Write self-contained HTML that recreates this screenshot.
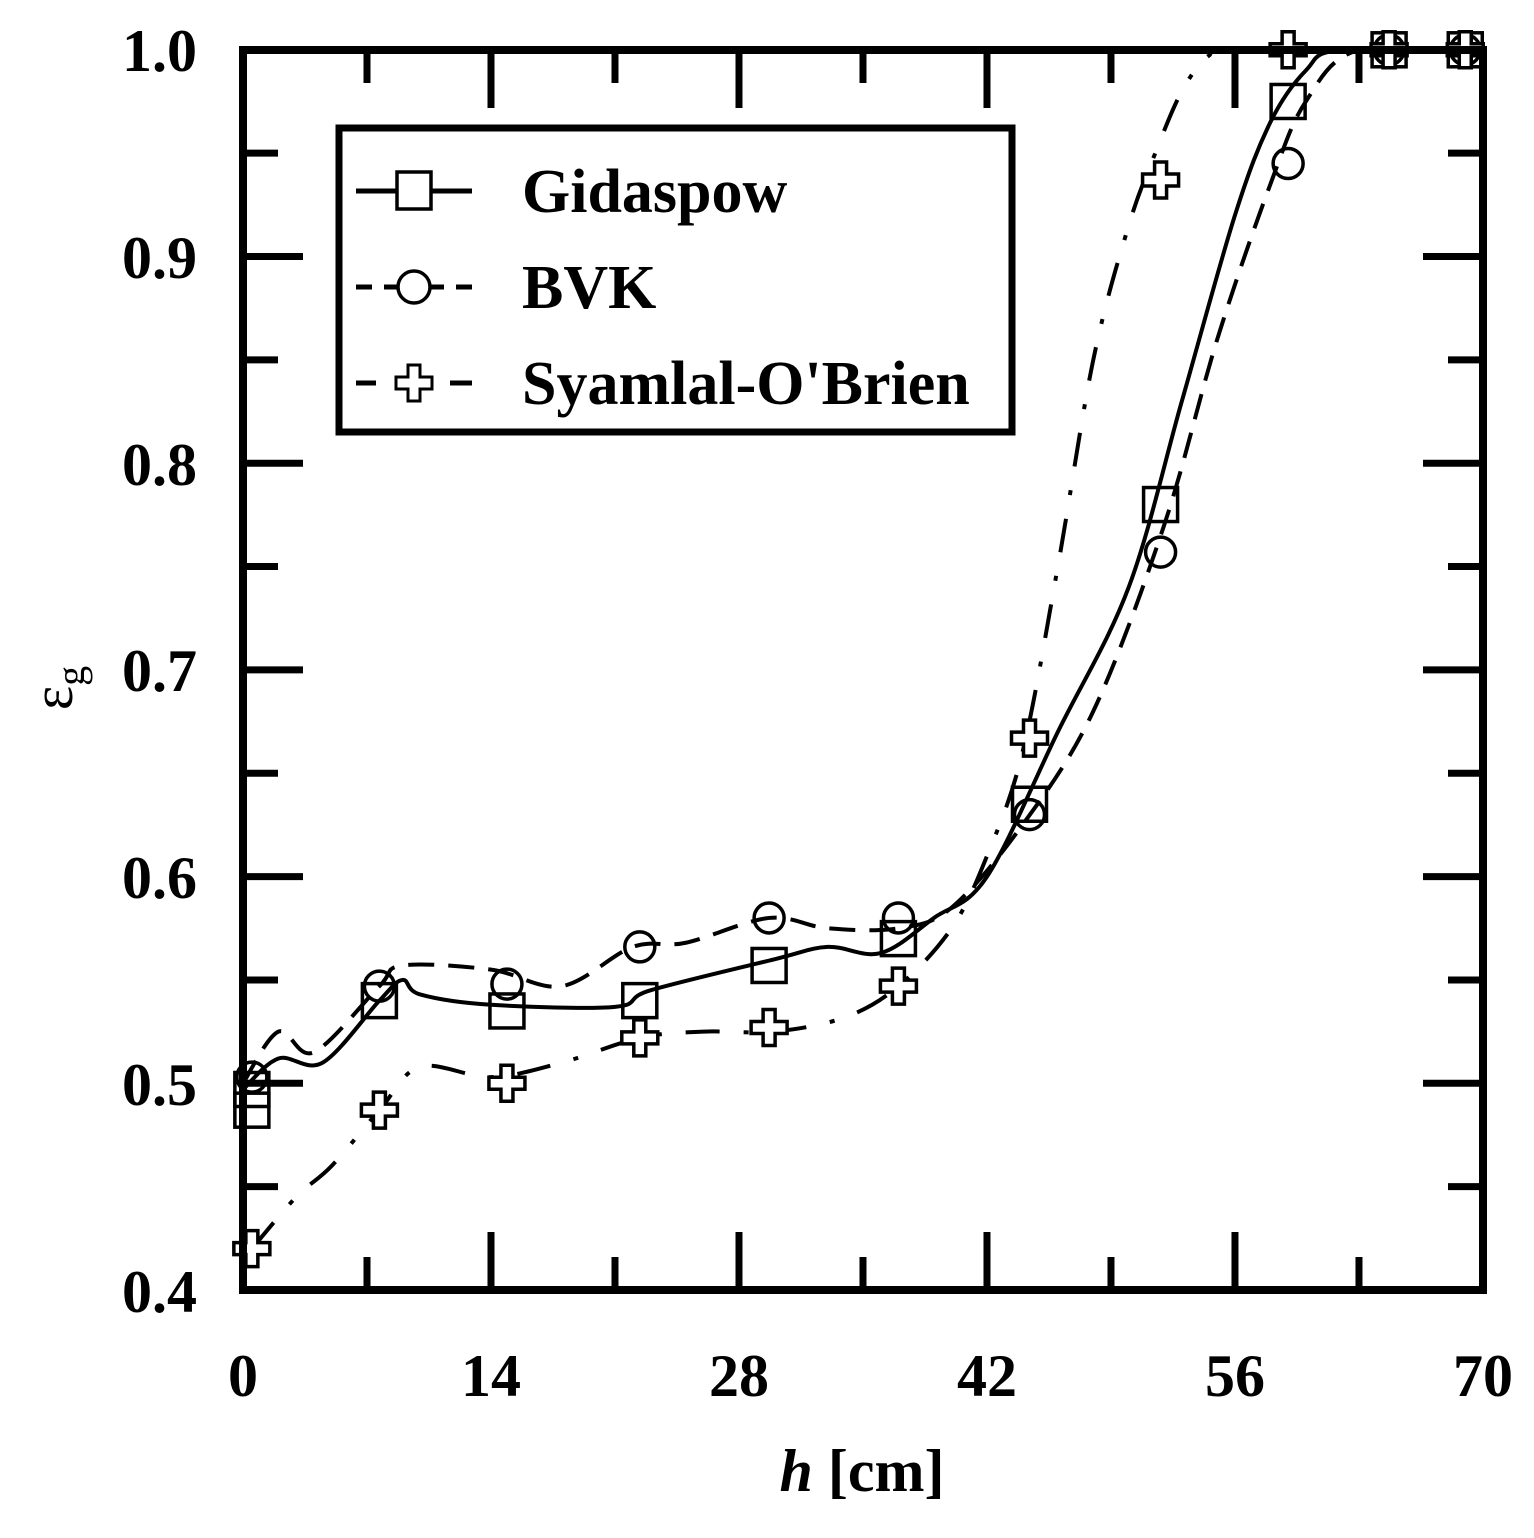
<!DOCTYPE html>
<html><head><meta charset="utf-8"><style>
html,body{margin:0;padding:0;background:#fff;}
svg{display:block;}
text{font-family:"Liberation Serif",serif;font-weight:bold;fill:#000;}
</style></head><body>
<svg id="s" width="1534" height="1538" viewBox="0 0 1534 1538" xmlns="http://www.w3.org/2000/svg">
<g id="ticks" stroke="#000" stroke-width="7"></g>
<g id="curves" fill="none" stroke="#000" stroke-width="4"></g>
<g id="marks" fill="none" stroke="#000" stroke-width="3.5"></g>
<rect x="243" y="50" width="1240" height="1240" fill="none" stroke="#000" stroke-width="8"/>
<g font-size="60" text-anchor="end">
<text x="197" y="71">1.0</text><text x="197" y="278">0.9</text><text x="197" y="485">0.8</text>
<text x="197" y="691">0.7</text><text x="197" y="898">0.6</text><text x="197" y="1105">0.5</text>
<text x="197" y="1312">0.4</text>
</g>
<g font-size="60" text-anchor="middle">
<text x="243" y="1396">0</text><text x="491" y="1396">14</text><text x="739" y="1396">28</text>
<text x="987" y="1396">42</text><text x="1235" y="1396">56</text><text x="1483" y="1396">70</text>
<text x="862" y="1491"><tspan font-style="italic">h</tspan> [cm]</text>
</g>
<text transform="translate(72,688) rotate(-90)" font-size="58" text-anchor="middle" style="font-weight:normal">ε<tspan font-size="40" dy="12">g</tspan></text>
<rect x="339" y="128" width="673" height="304" fill="#fff" stroke="#000" stroke-width="7"/>
<g stroke="#000" stroke-width="5" fill="none">
<line x1="356" y1="191" x2="472" y2="191"/>
<rect x="397" y="172" width="34" height="37" fill="#fff" stroke-width="3.5"/>
<line x1="356" y1="287" x2="372" y2="287"/><line x1="384" y1="287" x2="398" y2="287"/><line x1="430" y1="287" x2="444" y2="287"/><line x1="456" y1="287" x2="472" y2="287"/>
<circle cx="414" cy="287" r="16" stroke-width="3.5"/>
<line x1="356" y1="383" x2="376" y2="383"/><line x1="450" y1="383" x2="472" y2="383"/>
<path d="M408 365h12v12h12v12h-12v12h-12v-12h-12v-12h12z" fill="#fff" stroke-width="3"/>
</g>
<g font-size="62">
<text x="522" y="212">Gidaspow</text><text x="522" y="308">BVK</text><text x="522" y="404">Syamlal-O'Brien</text>
</g>
</svg>
<script>
const X=h=>243+h*17.714, Y=v=>1290-(v-0.4)*2067;
const ns="http://www.w3.org/2000/svg";
function el(p,t,a){const e=document.createElementNS(ns,t);for(const k in a)e.setAttribute(k,a[k]);document.getElementById(p).appendChild(e);return e;}
for(let i=1;i<12;i++){const v=0.4+i*0.05,y=Y(v),L=(i%2==0)?60:35;
 el("ticks","line",{x1:243,y1:y,x2:243+L,y2:y});el("ticks","line",{x1:1483,y1:y,x2:1483-L,y2:y});}
for(let i=1;i<10;i++){const x=X(i*7),L=(i%2==0)?58:33;
 el("ticks","line",{x1:x,y1:1290,x2:x,y2:1290-L});el("ticks","line",{x1:x,y1:50,x2:x,y2:50+L});}
function path(pts){const P=pts.map(p=>[X(p[0]),Y(p[1])]);let d="M"+P[0][0]+" "+P[0][1];
 const c=y=>Math.max(50,y);
 for(let i=0;i<P.length-1;i++){const p0=P[Math.max(0,i-1)],p1=P[i],p2=P[i+1],p3=P[Math.min(P.length-1,i+2)];
  d+=` C${p1[0]+(p2[0]-p0[0])/6} ${c(p1[1]+(p2[1]-p0[1])/6)} ${p2[0]-(p3[0]-p1[0])/6} ${c(p2[1]-(p3[1]-p1[1])/6)} ${p2[0]} ${p2[1]}`;}
 return d;}
const G=[[0,0.497],[2,0.512],[4.5,0.51],[7.7,0.54],[9,0.55],[10,0.543],[14,0.538],[21,0.537],[23,0.545],[30,0.56],[33,0.566],[36,0.563],[39,0.58],[42,0.6],[46,0.67],[50,0.74],[53,0.83],[56,0.92],[58,0.965],[60,0.99],[62,1.0],[70,1.0]];
const B=[[0,0.5],[2,0.525],[4,0.515],[7.7,0.547],[9,0.557],[14,0.555],[18,0.547],[22,0.566],[25,0.568],[29.7,0.58],[33,0.575],[37,0.575],[40,0.585],[44,0.625],[48,0.68],[52,0.77],[55,0.86],[58,0.935],[60,0.975],[63,1.0],[70,1.0]];
const S=[[0.5,0.42],[3,0.445],[5,0.46],[7.7,0.487],[10,0.508],[14,0.503],[18,0.51],[22.4,0.522],[26,0.525],[30,0.525],[34,0.532],[37,0.547],[40,0.575],[42,0.61],[44,0.66],[46,0.75],[48,0.85],[50,0.915],[51.5,0.95],[53,0.98],[54.5,0.997],[56,1.0],[70,1.0]];
el("curves","path",{d:path(G)});
el("curves","path",{d:path(B),"stroke-dasharray":"26 14"});
el("curves","path",{d:path(S),"stroke-dasharray":"34 24 5 24"});
const hs=[0.5,7.7,14.9,22.4,29.7,37,44.4,51.8,59,64.7,69];
const gv=[0.487,0.54,0.535,0.54,0.557,0.57,0.635,0.78,0.975,1,1];
const bv=[0.503,0.547,0.548,0.566,0.58,0.58,0.63,0.757,0.945,1,1];
const sv=[0.42,0.487,0.5,0.522,0.527,0.547,0.667,0.937,1.0,1,1];
hs.forEach((h,i)=>{const x=X(h);
 let y=Y(gv[i]);el("marks","rect",{x:x-17,y:y-17,width:34,height:34});
 if(i==0)el("marks","rect",{x:x-17,y:Y(0.497)-17,width:34,height:34});
 y=Y(bv[i]);el("marks","circle",{cx:x,cy:y,r:15});
 y=Y(sv[i]);el("marks","path",{d:`M${x-6} ${y-18}h12v12h12v12h-12v12h-12v-12h-12v-12h12z`,fill:"#fff"});
});
</script>
</body></html>
